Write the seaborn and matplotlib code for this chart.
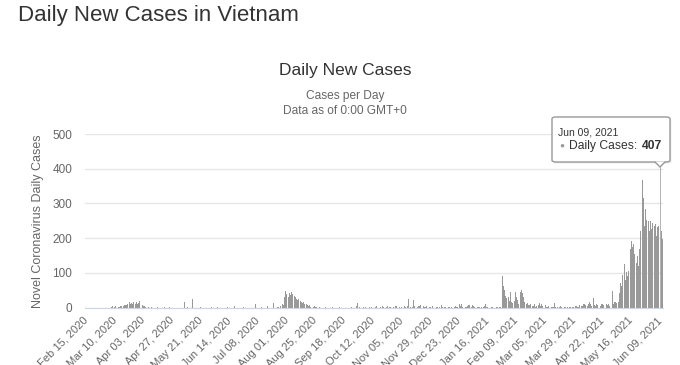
import matplotlib
matplotlib.use("Agg")
import matplotlib.pyplot as plt
import seaborn as sns
import pandas as pd
import numpy as np
from matplotlib.patches import FancyBboxPatch, Polygon
from matplotlib.lines import Line2D

# daily new cases, one value per day starting Feb 15, 2020
cases_feb15_apr14_2020 = [
    0, 0, 0, 0, 0, 0, 0, 0, 0, 0,
    0, 0, 0, 0, 0, 0, 0, 0, 0, 0,
    0, 3, 5, 0, 2, 4, 0, 3, 2, 6,
    4, 5, 8, 9, 7, 10, 15, 10, 14, 11,
    16, 12, 15, 10, 14, 18, 12, 8, 5, 4,
    2, 1, 3, 0, 0, 1, 0, 0, 0, 0,
]
cases_apr15_jul23_2020 = [
    1, 0, 0, 0, 0, 0, 2, 0, 0, 0,
    1, 0, 0, 0, 0, 0, 0, 0, 0, 0,
    0, 0, 15, 0, 0, 1, 0, 0, 0, 24,
    0, 0, 0, 0, 0, 0, 2, 0, 0, 0,
    0, 0, 0, 0, 0, 1, 0, 0, 0, 0,
    3, 0, 0, 0, 0, 0, 0, 0, 1, 0,
    0, 0, 0, 0, 6, 0, 0, 0, 0, 0,
    0, 0, 1, 0, 0, 0, 0, 0, 0, 0,
    0, 0, 12, 0, 0, 0, 0, 1, 0, 0,
    0, 0, 5, 0, 0, 0, 0, 14, 0, 0,
]
cases_jul24_oct31_2020 = [
    1, 2, 0, 6, 11, 9, 30, 48, 40, 30,
    42, 36, 44, 38, 33, 30, 26, 22, 24, 18,
    16, 14, 17, 10, 12, 9, 5, 8, 3, 4,
    2, 4, 1, 3, 0, 1, 0, 0, 0, 0,
    1, 0, 0, 0, 0, 0, 2, 0, 0, 0,
    0, 0, 1, 0, 0, 0, 0, 0, 0, 0,
    0, 0, 1, 0, 0, 0, 4, 14, 0, 1,
    0, 0, 2, 0, 1, 0, 0, 2, 0, 1,
    3, 0, 1, 4, 0, 1, 3, 0, 4, 1,
    0, 2, 5, 0, 3, 1, 0, 2, 0, 6,
]
cases_nov01_2020_feb08_2021 = [
    5, 0, 1, 0, 3, 0, 4, 1, 0, 5,
    25, 3, 0, 2, 21, 4, 0, 2, 5, 6,
    8, 0, 4, 1, 2, 6, 0, 3, 1, 0,
    5, 2, 0, 3, 1, 0, 2, 8, 3, 0,
    1, 2, 0, 3, 1, 0, 2, 0, 2, 4,
    1, 3, 10, 4, 10, 2, 0, 3, 1, 4,
    8, 8, 2, 8, 5, 1, 0, 2, 1, 3,
    0, 2, 1, 4, 12, 3, 1, 2, 0, 1,
    2, 0, 1, 3, 1, 0, 2, 1, 90, 62,
    52, 35, 28, 30, 20, 44, 17, 14, 18, 46,
]
cases_feb09_jun11_2021 = [
    31, 22, 12, 46, 52, 43, 30, 17, 12, 14,
    8, 7, 10, 4, 5, 10, 3, 5, 8, 14,
    4, 10, 6, 5, 7, 2, 3, 4, 1, 2,
    3, 1, 14, 2, 1, 0, 2, 5, 1, 0,
    2, 3, 0, 2, 3, 1, 0, 2, 1, 4,
    5, 3, 2, 8, 5, 6, 10, 12, 8, 4,
    10, 15, 10, 6, 27, 8, 5, 10, 8, 3,
    5, 10, 12, 7, 5, 10, 8, 12, 5, 10,
    47, 12, 15, 17, 14, 17, 41, 70, 63, 95,
    127, 80, 103, 90, 105, 170, 193, 174, 183, 154,
    130, 149, 120, 169, 221, 368, 315, 235, 284, 252,
    250, 222, 250, 226, 245, 235, 240, 205, 232, 236,
    407, 220, 198,
]

first_day = "2020-02-15"
tick_step = 24
highlight_day = "2021-06-09"
y_ticks = [0, 100, 200, 300, 400, 500]

cases = (cases_feb15_apr14_2020 + cases_apr15_jul23_2020 + cases_jul24_oct31_2020
         + cases_nov01_2020_feb08_2021 + cases_feb09_jun11_2021)
days = pd.date_range(first_day, periods=len(cases), freq="D")
df = pd.DataFrame({"day": np.arange(len(cases)), "cases": cases})

sns.set_style("white")
plt.rcParams["font.family"] = ["Liberation Sans", "DejaVu Sans"]

W, H = 680, 365
def fx(px):
    return px / W
def fy(py):
    return 1 - py / H

fig = plt.figure(figsize=(W / 100, H / 100), dpi=100)
ax = fig.add_axes([fx(85.4), fy(307.7), 577.6 / W, 173.7 / H])

sns.barplot(data=df, x="day", y="cases", color="#999999", saturation=1,
            width=0.8, linewidth=0, errorbar=None, ax=ax)

# hovered bar, drawn lighter like the chart's hover state
hi = days.get_loc(pd.Timestamp(highlight_day))
hbar = ax.patches[hi]
hbar.set_facecolor("#a6a6a6")
hbar.set_edgecolor("#a6a6a6")
hbar.set_linewidth(0.6)
hbar.set_zorder(4)

ax.set_xlim(-0.5, len(cases) - 0.5)
ax.set_ylim(0, 500)
ax.set_yticks(y_ticks)
ax.grid(axis="y", color="#e6e6e6", lw=1)
ax.set_axisbelow(True)
for s in ["top", "right", "left"]:
    ax.spines[s].set_visible(False)
ax.spines["bottom"].set_color("#ccd6eb")

pos = list(range(0, len(cases), tick_step))
ax.set_xticks(pos, [days[p].strftime("%b %d, %Y") for p in pos])
for lab in ax.get_xticklabels():
    lab.set_rotation(45)
    lab.set_ha("right")
    lab.set_va("center")
    lab.set_rotation_mode("anchor")
ax.tick_params(axis="x", length=0, pad=8, labelsize=8, labelcolor="#666666")
ax.tick_params(axis="y", length=0, pad=9.5, labelsize=8.5, labelcolor="#666666")
ax.set_xlabel("")
ax.set_ylabel("Novel Coronavirus Daily Cases", fontsize=9, color="#666666")
ax.yaxis.set_label_coords(-0.0717, 0.5)

# headings
fig.text(fx(18), fy(16), "Daily New Cases in Vietnam", fontsize=16, color="#333333",
         ha="left", va="center")
fig.text(fx(345), fy(70), "Daily New Cases", fontsize=12.5, color="#333333",
         ha="center", va="center")
fig.text(fx(345), fy(96), "Cases per Day", fontsize=8.6, color="#666666",
         ha="center", va="center")
fig.text(fx(345), fy(111), "Data as of 0:00 GMT+0", fontsize=8.6, color="#666666",
         ha="center", va="center")

# tooltip with a soft shadow
shadow = FancyBboxPatch((fx(553.5), fy(163.5)), 118 / W, 45 / H,
                        boxstyle="round,pad=0,rounding_size=0.005",
                        transform=fig.transFigure, fc="#000000", alpha=0.08,
                        ec="none", zorder=4)
fig.add_artist(shadow)
box = FancyBboxPatch((fx(552), fy(162)), 118 / W, 45 / H,
                     boxstyle="round,pad=0,rounding_size=0.005",
                     transform=fig.transFigure, fc="white", ec="#999999", lw=1, zorder=5)
fig.add_artist(box)
tip = Polygon([(fx(655), fy(161.5)), (fx(660), fy(167)), (fx(665), fy(161.5))],
              closed=True, transform=fig.transFigure, fc="white", ec="none", zorder=6)
fig.add_artist(tip)
fig.add_artist(Line2D([fx(655), fx(660), fx(665)], [fy(162), fy(167), fy(162)],
                      transform=fig.transFigure, color="#999999", lw=1, zorder=6))
fig.text(fx(558), fy(132), days[hi].strftime("%b %d, %Y"), fontsize=7.5,
         color="#333333", ha="left", va="center", zorder=7)
fig.text(fx(559), fy(146), "\u25cf", fontsize=6, color="#999999",
         ha="left", va="center", zorder=7)
fig.text(fx(569), fy(146), "Daily Cases:", fontsize=8.7, color="#333333",
         ha="left", va="center", zorder=7)
fig.text(fx(642), fy(146), str(cases[hi]), fontsize=8.7, color="#333333",
         fontweight="bold", ha="left", va="center", zorder=7)

fig.savefig("out.png", dpi=100)
